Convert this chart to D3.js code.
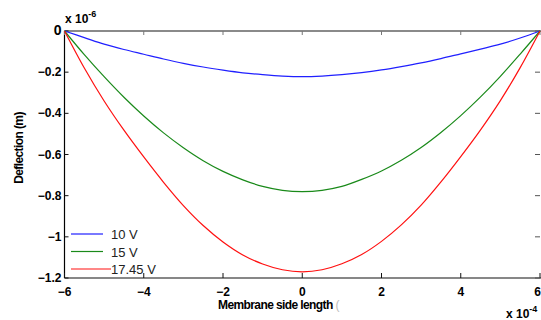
<!DOCTYPE html>
<html>
<head>
<meta charset="utf-8">
<script src="https://cdn.jsdelivr.net/npm/d3@7"></script>
<style>
	body { margin: 0; background: #fff; }
	svg { display: block; font-family: 'Liberation Sans', Arial, sans-serif; }
	.tick-label { font-size: 12px; font-weight: bold; fill: #000; }
	.axis-title { font-size: 12px; font-weight: bold; fill: #000; letter-spacing: -0.6px; }
	.legend-label { font-size: 13px; fill: #222; }
</style>
</head>
<body>
<div id="chart"></div>
<script>
// x positions (x 10^-4 m) and deflections (x 10^-6 m)
const xPos = [-6, -5.5, -5, -4.5, -4, -3.5, -3, -2.5, -2, -1.5, -1, -0.5, 0, 0.5, 1, 1.5, 2, 2.5, 3, 3.5, 4, 4.5, 5, 5.5, 6];
const defl10 = [0, -0.032, -0.064, -0.090, -0.113, -0.136, -0.157, -0.175, -0.190, -0.203, -0.212, -0.219, -0.222, -0.219, -0.212, -0.202, -0.189, -0.173, -0.155, -0.134, -0.111, -0.088, -0.064, -0.034, 0];
const defl15 = [0, -0.115, -0.222, -0.322, -0.413, -0.495, -0.567, -0.630, -0.682, -0.723, -0.755, -0.774, -0.780, -0.774, -0.755, -0.721, -0.680, -0.628, -0.566, -0.493, -0.411, -0.320, -0.220, -0.112, 0];
const defl1745 = [0, -0.180, -0.340, -0.482, -0.612, -0.735, -0.848, -0.945, -1.025, -1.088, -1.132, -1.160, -1.170, -1.160, -1.131, -1.086, -1.022, -0.942, -0.846, -0.733, -0.610, -0.480, -0.338, -0.178, 0];
const seriesNames = ['10 V', '15 V', '17.45 V'];
const seriesColors = ['#2020ff', '#1a8a1a', '#ff1010'];
const xTicks = [-6, -4, -2, 0, 2, 4, 6];
const yTicks = [0, -0.2, -0.4, -0.6, -0.8, -1, -1.2];

const width = 541;
const height = 320;
const plot = { left: 64.5, right: 540, top: 31, bottom: 278 };

const svg = d3.select('#chart').append('svg')
	.attr('width', width)
	.attr('height', height);

const x = d3.scaleLinear().domain([-6, 6]).range([plot.left, plot.right]);
const y = d3.scaleLinear().domain([-1.2, 0]).range([plot.bottom, plot.top]);

// frame lines
svg.append('line')
	.attr('x1', plot.left).attr('x2', width)
	.attr('y1', plot.top).attr('y2', plot.top)
	.attr('stroke', '#8a8a8a').attr('stroke-width', 2);
svg.append('line')
	.attr('x1', plot.left).attr('x2', plot.left)
	.attr('y1', plot.top).attr('y2', plot.bottom)
	.attr('stroke', '#000').attr('stroke-width', 1.2);
svg.append('line')
	.attr('x1', plot.left).attr('x2', width)
	.attr('y1', plot.bottom).attr('y2', plot.bottom)
	.attr('stroke', '#111').attr('stroke-width', 1.2);

// x ticks (inward, top and bottom)
const xt = svg.selectAll('.xtick').data(xTicks).enter().append('g')
	.attr('class', 'xtick');
xt.append('line')
	.attr('x1', d => x(d)).attr('x2', d => x(d))
	.attr('y1', plot.bottom).attr('y2', plot.bottom - 5)
	.attr('stroke', '#111');
xt.append('line')
	.attr('x1', d => x(d)).attr('x2', d => x(d))
	.attr('y1', plot.top).attr('y2', plot.top + 4)
	.attr('stroke', '#777');
xt.append('text')
	.attr('class', 'tick-label')
	.attr('x', d => d === 6 ? width : x(d))
	.attr('y', 296)
	.attr('text-anchor', d => d === 6 ? 'end' : 'middle')
	.text(d => d3.format('d')(d).replace('-', '\u2011'));

// y ticks (inward, left and right)
const yt = svg.selectAll('.ytick').data(yTicks).enter().append('g')
	.attr('class', 'ytick');
yt.append('line')
	.attr('x1', plot.left).attr('x2', plot.left + 4)
	.attr('y1', d => y(d)).attr('y2', d => y(d))
	.attr('stroke', '#111');
yt.append('line')
	.attr('x1', plot.right).attr('x2', plot.right - 5)
	.attr('y1', d => y(d)).attr('y2', d => y(d))
	.attr('stroke', '#555');
yt.append('text')
	.attr('class', 'tick-label')
	.attr('x', plot.left - 3)
	.attr('y', d => y(d) + 4)
	.attr('text-anchor', 'end')
	.style('font-size', d => d === 0 ? '14px' : '12px')
	.text(d => d === 0 ? '0' : d3.format('')(d).replace('-', '\u2011'));

// exponent labels
const exTop = svg.append('text').attr('class', 'tick-label')
	.attr('x', 65).attr('y', 23);
exTop.append('tspan').text('x 10');
exTop.append('tspan').attr('dy', -6).style('font-size', '9px').text('-6');

const exBottom = svg.append('text').attr('class', 'tick-label')
	.attr('x', 506).attr('y', 318);
exBottom.append('tspan').text('x 10');
exBottom.append('tspan').attr('dy', -6).style('font-size', '9px').text('-4');

// axis titles
svg.append('text')
	.attr('class', 'axis-title')
	.attr('transform', 'translate(23, 148) rotate(-90)')
	.attr('text-anchor', 'middle')
	.text('Deflection (m)');
const xTitle = svg.append('text')
	.attr('class', 'axis-title')
	.attr('x', 218)
	.attr('y', 309);
xTitle.append('tspan').text('Membrane side length ');
xTitle.append('tspan').attr('fill', '#bbb').style('font-weight', 'normal').text('(');

// curves
const series = [defl10, defl15, defl1745];
const line = d3.line()
	.x((d, i) => x(xPos[i]))
	.y(d => y(d))
	.curve(d3.curveCatmullRom);
svg.selectAll('.curve').data(series).enter().append('path')
	.attr('class', 'curve')
	.attr('d', d => line(d))
	.attr('fill', 'none')
	.attr('stroke', (d, i) => seriesColors[i])
	.attr('stroke-width', 1.2);

// legend
const legend = svg.selectAll('.legend-item').data(seriesNames).enter().append('g')
	.attr('class', 'legend-item')
	.attr('transform', (d, i) => `translate(71, ${234 + i * 17.5})`);
legend.append('line')
	.attr('x1', 0).attr('x2', (d, i) => i === 2 ? 40 : 32)
	.attr('stroke', (d, i) => seriesColors[i])
	.attr('stroke-width', 1.2);
legend.append('text')
	.attr('class', 'legend-label')
	.attr('x', 40)
	.attr('y', 5)
	.text(d => d);
</script>
</body>
</html>
